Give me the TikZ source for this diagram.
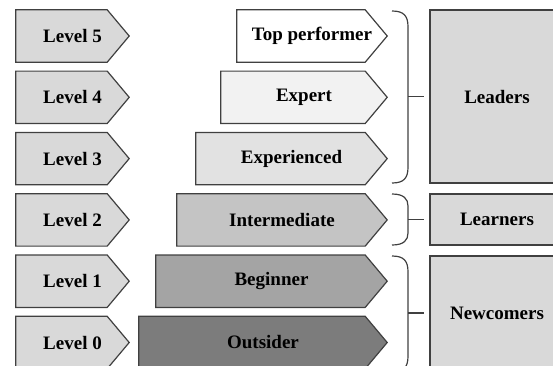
\documentclass[tikz,border=0pt]{standalone}
\usepackage{fontspec}
\setmainfont{Liberation Serif}
\usetikzlibrary{calc,backgrounds}
\definecolor{edge}{RGB}{64,64,64}
\definecolor{lvgray}{RGB}{217,217,217}
\definecolor{sexpert}{RGB}{242,242,242}
\definecolor{sexper}{RGB}{226,226,226}
\definecolor{sinter}{RGB}{196,196,196}
\definecolor{sbegin}{RGB}{164,164,164}
\definecolor{soutside}{RGB}{124,124,124}
\tikzset{
    tab/.style={
           rectangle,
           inner sep=0pt,
           minimum height=52pt,
           font=\fontsize{19pt}{21pt}\selectfont\bfseries},
    grp/.style={
           rectangle,
           draw=edge, line width=1.2pt,
           fill=lvgray,
           inner sep=0pt,
           minimum width=134pt,
           font=\fontsize{19pt}{21pt}\selectfont\bfseries},
    brc/.style={
           draw=edge,
           line width=1.2pt}
}
% arrow shaped box behind a node
\newcommand{\tabfill}[2]{%
  \filldraw[fill=#2, draw=edge, line width=1.2pt] (#1.north west) -- ($(#1.north east)+(-22pt,0)$) -- (#1.east) -- ($(#1.south east)+(-22pt,0)$) -- (#1.south west) -- cycle;}
% curly brace from top to bottom coordinate
\newcommand{\grpbrace}[3]{%
  \draw[brc] (#1) .. controls ($(#1)+(12pt,0)$) and ($(#1)+(16pt,-5pt)$) .. ($(#1)+(16pt,-#3)$) -- ($(#2)+(16pt,#3)$) .. controls ($(#2)+(16pt,5pt)$) and ($(#2)+(12pt,0)$) .. (#2);}

\begin{document}
\begin{tikzpicture}[x=1pt,y=-1pt]
          \useasboundingbox (0,0) rectangle (553,365);
          \def \lx {72.5}
          \node[tab, minimum width=113pt](l5) at (\lx,36) {Level 5};
          \node[tab, minimum width=113pt](l4) at (\lx,97.3) {Level 4};
          \node[tab, minimum width=113pt](l3) at (\lx,158.6) {Level 3};
          \node[tab, minimum width=113pt](l2) at (\lx,219.9) {Level 2};
          \node[tab, minimum width=113pt](l1) at (\lx,281.2) {Level 1};
          \node[tab, minimum width=113pt](l0) at (\lx,342.5) {Level 0};
          \node[tab, minimum width=150pt](stop) at (312,36) {Top performer};
          \node[tab, minimum width=166pt](sexp) at (304,97.3) {Expert};
          \node[tab, minimum width=191pt](sexd) at (291.5,158.6) {Experienced};
          \node[tab, minimum width=210pt](sint) at (282,219.9) {Intermediate};
          \node[tab, minimum width=231pt](sbeg) at (271.5,281.2) {Beginner};
          \node[tab, minimum width=248pt](sout) at (263,342.5) {Outsider};
          \begin{scope}[on background layer]
            \foreach \n/\c in {l5/lvgray,l4/lvgray,l3/lvgray,l2/lvgray,l1/lvgray,l0/lvgray,
                stop/white,sexp/sexpert,sexd/sexper,sint/sinter,sbeg/sbegin,sout/soutside}
              \tabfill{\n}{\c};
          \end{scope}
          \node[grp, minimum height=173pt](leaders) at (497,96.5) {Leaders};
          \node[grp, minimum height=51pt](learners) at (497,219.5) {Learners};
          \node[grp, minimum height=114pt](newcomers) at (497,313) {Newcomers};
          \coordinate (ltop) at (392,11);
          \coordinate (lbot) at (392,183);
          \coordinate (ntop) at (392,194);
          \coordinate (nbot) at (392,245);
          \coordinate (ctop) at (392,256);
          \coordinate (cbot) at (392,372);
          \coordinate (lmid) at (408,96.5);
          \coordinate (nmid) at (408,219.5);
          \coordinate (cmid) at (408,313);
          \grpbrace{ltop}{lbot}{16pt}
          \grpbrace{ntop}{nbot}{12pt}
          \grpbrace{ctop}{cbot}{16pt}
          \draw[brc, shorten >=5pt] (lmid) -- (leaders.west);
          \draw[brc, shorten >=5pt] (nmid) -- (learners.west);
          \draw[brc, shorten >=5pt] (cmid) -- (newcomers.west);
\end{tikzpicture}
\end{document}
